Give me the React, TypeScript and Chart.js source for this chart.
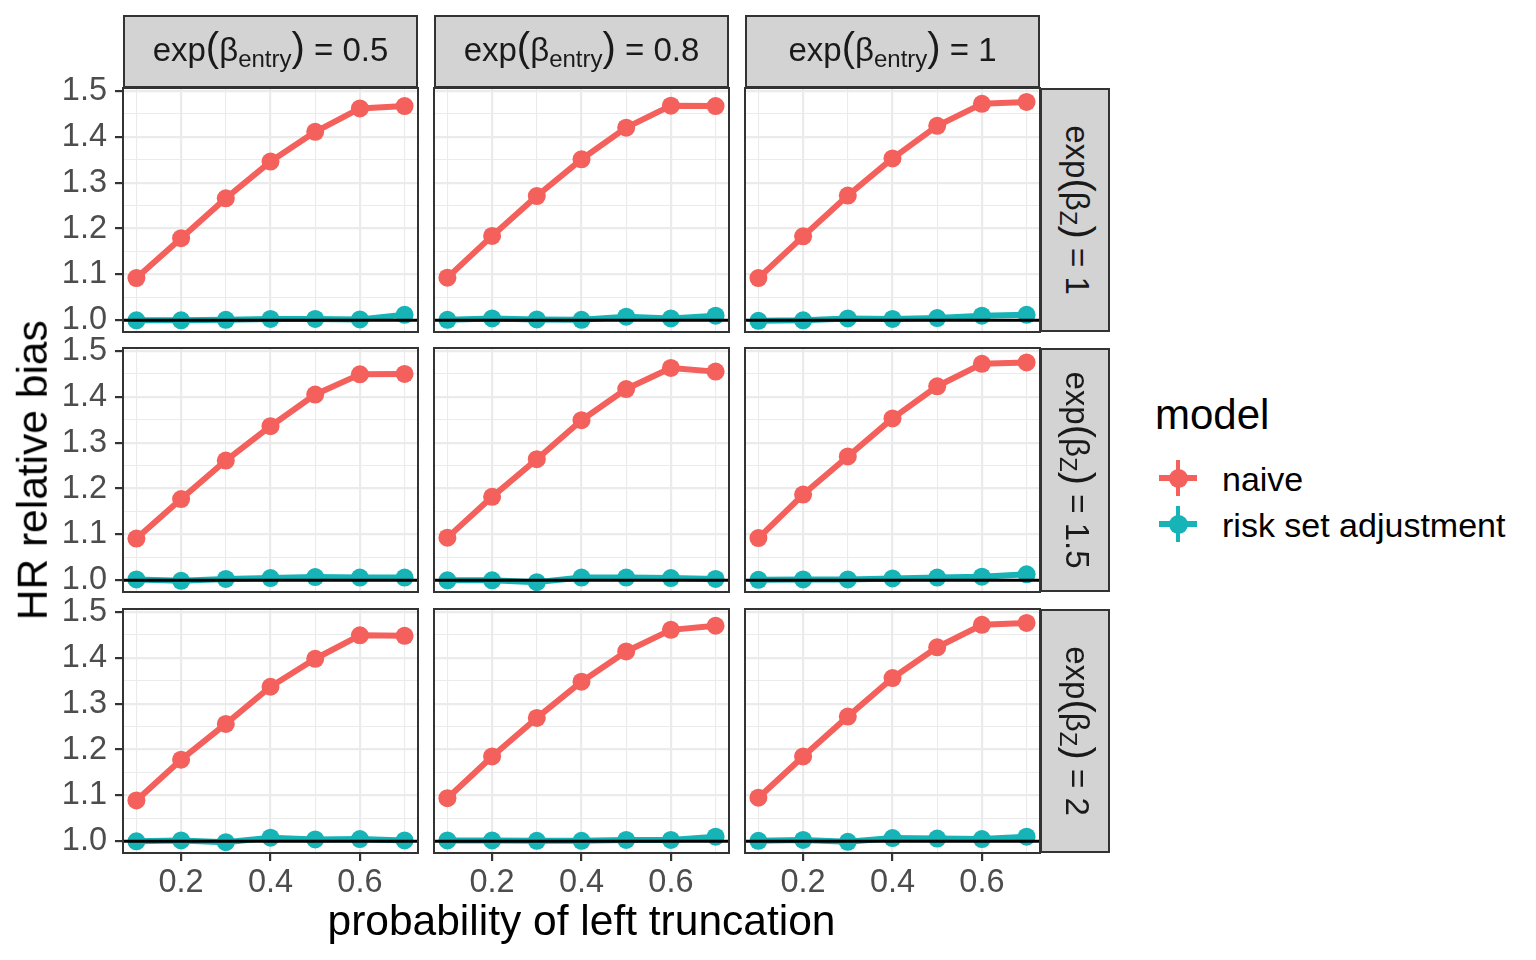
import { useEffect, useRef } from 'react'
import { Chart, registerables } from 'chart.js'

Chart.register(...registerables)

// x: probability of left truncation
const truncProb = [0.1, 0.2, 0.3, 0.4, 0.5, 0.6, 0.7]

// facet labels
const entryLabels = ['0.5', '0.8', '1']
const zLabels = ['1', '1.5', '2']

const modelNames = ['naive', 'risk set adjustment']

// axis breaks (major labelled, minor only gridlines)
const yMajor = [1.0, 1.1, 1.2, 1.3, 1.4, 1.5]
const yMinor = [1.05, 1.15, 1.25, 1.35, 1.45]
const xMajor = [0.2, 0.4, 0.6]
const xMinor = [0.1, 0.3, 0.5, 0.7]

const refLine = 1

// naive model, one array per panel (Z = exp(beta_z), E = exp(beta_entry))
const naiveZ1E05 = [1.092, 1.179, 1.266, 1.346, 1.411, 1.462, 1.467]
const naiveZ1E08 = [1.093, 1.184, 1.271, 1.351, 1.42, 1.468, 1.467]
const naiveZ1E1 = [1.092, 1.183, 1.272, 1.353, 1.424, 1.472, 1.476]
const naiveZ15E05 = [1.091, 1.177, 1.261, 1.336, 1.405, 1.449, 1.45]
const naiveZ15E08 = [1.093, 1.182, 1.264, 1.349, 1.417, 1.463, 1.455]
const naiveZ15E1 = [1.092, 1.187, 1.27, 1.353, 1.423, 1.472, 1.475]
const naiveZ2E05 = [1.089, 1.178, 1.256, 1.337, 1.398, 1.449, 1.448]
const naiveZ2E08 = [1.094, 1.185, 1.269, 1.348, 1.414, 1.461, 1.47]
const naiveZ2E1 = [1.095, 1.185, 1.272, 1.356, 1.423, 1.472, 1.476]

// risk set adjustment
const riskZ1E05 = [1.0, 1.0, 1.001, 1.003, 1.003, 1.002, 1.012]
const riskZ1E08 = [1.001, 1.004, 1.002, 1.001, 1.008, 1.004, 1.01]
const riskZ1E1 = [0.999, 1.0, 1.004, 1.003, 1.005, 1.01, 1.012]
const riskZ15E05 = [1.002, 0.999, 1.003, 1.005, 1.007, 1.006, 1.006]
const riskZ15E08 = [1.0, 1.0, 0.996, 1.006, 1.006, 1.005, 1.003]
const riskZ15E1 = [1.001, 1.002, 1.002, 1.004, 1.006, 1.008, 1.013]
const riskZ2E05 = [1.0, 1.002, 0.998, 1.008, 1.004, 1.005, 1.002]
const riskZ2E08 = [1.002, 1.002, 1.001, 1.001, 1.003, 1.003, 1.01]
const riskZ2E1 = [1.001, 1.003, 0.999, 1.007, 1.006, 1.005, 1.01]

const naive = [
  [naiveZ1E05, naiveZ1E08, naiveZ1E1],
  [naiveZ15E05, naiveZ15E08, naiveZ15E1],
  [naiveZ2E05, naiveZ2E08, naiveZ2E1],
]
const risk = [
  [riskZ1E05, riskZ1E08, riskZ1E1],
  [riskZ15E05, riskZ15E08, riskZ15E1],
  [riskZ2E05, riskZ2E08, riskZ2E1],
]

const FONT = "'Liberation Sans', Arial, Helvetica, sans-serif"
const RED = '#F4605B'
const TEAL = '#16B3B7'
const GRID = '#EBEBEB'
const DARK = '#333333'
const TICK_TEXT = '#4D4D4D'
const STRIP_FILL = '#D3D3D3'

// layout (px)
const PANEL_LEFT = [123, 434, 745]
const PANEL_TOP = [88, 348, 609]
const PANEL_W = 295
const PANEL_H = 244
const PAD = 30
const Y_AXIS_W = 70
const X_AXIS_H = 52
const STRIP_TOP = 15
const STRIP_W = 70
const TICK_SIZE = 32.5
const TITLE_SIZE = 42.5

const X_MIN = 0.07
const X_MAX = 0.73
const Y_MIN = 0.9745
const Y_MAX = 1.5065

Chart.defaults.font.family = FONT

const near = (list: number[], v: number) => list.some((m) => Math.abs(m - v) < 1e-9)
const xGrid = [...xMinor, ...xMajor].sort((a, b) => a - b)
const yGrid = [...yMinor, ...yMajor].sort((a, b) => a - b)

// text box top so that the baseline lands on `baseline`, line-height = font size
const topFor = (baseline: number, size: number) => baseline - 0.8465 * size

const panelFrame = {
  id: 'panelFrame',
  afterDatasetsDraw(chart: any) {
    const { ctx, chartArea: a, scales } = chart
    const py = scales.y.getPixelForValue(refLine)
    ctx.save()
    ctx.strokeStyle = '#000000'
    ctx.lineWidth = 3
    ctx.beginPath()
    ctx.moveTo(a.left, py)
    ctx.lineTo(a.right, py)
    ctx.stroke()
    ctx.strokeStyle = DARK
    ctx.lineWidth = 2
    ctx.strokeRect(a.left, a.top, a.right - a.left, a.bottom - a.top)
    ctx.restore()
  },
}

function Panel({ row, col }: { row: number; col: number }) {
  const canvasRef = useRef<HTMLCanvasElement>(null)
  const showY = col === 0
  const showX = row === 2
  const padL = PAD + (showY ? Y_AXIS_W : 0)
  const padB = PAD + (showX ? X_AXIS_H : 0)

  useEffect(() => {
    if (!canvasRef.current) return
    const ctx = canvasRef.current.getContext('2d')
    if (!ctx) return

    const series = [
      { name: modelNames[0], vals: naive[row][col], color: RED },
      { name: modelNames[1], vals: risk[row][col], color: TEAL },
    ]

    const chart = new Chart(ctx, {
      type: 'line',
      data: {
        datasets: series.map((s) => ({
          label: s.name,
          data: truncProb.map((x, i) => ({ x, y: s.vals[i] })),
          borderColor: s.color,
          backgroundColor: s.color,
          borderWidth: 6,
          borderJoinStyle: 'round' as const,
          pointRadius: 9,
          pointHoverRadius: 9,
          pointBorderWidth: 0,
          pointBackgroundColor: s.color,
          tension: 0,
        })),
      },
      options: {
        animation: false,
        responsive: true,
        maintainAspectRatio: false,
        events: [],
        layout: { padding: { left: PAD, right: PAD, top: PAD, bottom: PAD } },
        plugins: { legend: { display: false }, tooltip: { enabled: false } },
        scales: {
          x: {
            type: 'linear',
            min: X_MIN,
            max: X_MAX,
            afterBuildTicks: (axis: any) => {
              axis.ticks = xGrid.map((value) => ({ value }))
            },
            afterFit: (axis: any) => {
              axis.height = showX ? X_AXIS_H : 0
            },
            border: { display: false },
            grid: {
              color: GRID,
              lineWidth: (c: any) => (near(xMajor, c.tick.value) ? 2.2 : 1.1),
              drawTicks: showX,
              tickLength: 8,
              tickWidth: 2.2,
              tickColor: (c: any) => (near(xMajor, c.tick.value) ? DARK : 'rgba(0,0,0,0)'),
            },
            ticks: {
              display: showX,
              autoSkip: false,
              maxRotation: 0,
              padding: 3,
              color: TICK_TEXT,
              font: { size: TICK_SIZE, family: FONT },
              callback: (v: any) => (near(xMajor, Number(v)) ? Number(v).toFixed(1) : ''),
            },
          },
          y: {
            type: 'linear',
            min: Y_MIN,
            max: Y_MAX,
            afterBuildTicks: (axis: any) => {
              axis.ticks = yGrid.map((value) => ({ value }))
            },
            afterFit: (axis: any) => {
              axis.width = showY ? Y_AXIS_W : 0
            },
            border: { display: false },
            grid: {
              color: GRID,
              lineWidth: (c: any) => (near(yMajor, c.tick.value) ? 2.2 : 1.1),
              drawTicks: showY,
              tickLength: 8,
              tickWidth: 2.2,
              tickColor: (c: any) => (near(yMajor, c.tick.value) ? DARK : 'rgba(0,0,0,0)'),
            },
            ticks: {
              display: showY,
              autoSkip: false,
              padding: 8,
              color: TICK_TEXT,
              font: { size: TICK_SIZE, family: FONT },
              callback: (v: any) => (near(yMajor, Number(v)) ? Number(v).toFixed(1) : ''),
            },
          },
        },
      } as any,
      plugins: [panelFrame],
    })

    return () => {
      chart.destroy()
    }
  }, [row, col])

  return (
    <div
      style={{
        position: 'absolute',
        left: PANEL_LEFT[col] - padL,
        top: PANEL_TOP[row] - PAD,
        width: PANEL_W + padL + PAD,
        height: PANEL_H + PAD + padB,
      }}
    >
      <canvas ref={canvasRef} />
    </div>
  )
}

function StripLabel({ sub, value, top }: { sub: string; value: string; top: number }) {
  return (
    <div
      style={{
        position: 'absolute',
        left: 0,
        right: 0,
        top,
        textAlign: 'center',
        whiteSpace: 'nowrap',
        fontSize: 33,
        lineHeight: '33px',
        color: '#1A1A1A',
      }}
    >
      exp<span style={{ fontSize: 40 }}>(</span>β
      <span style={{ fontSize: 24, verticalAlign: -6 }}>{sub}</span>
      <span style={{ fontSize: 40 }}>)</span> = {value}
    </div>
  )
}

function TopStrip({ col }: { col: number }) {
  return (
    <div
      style={{
        position: 'absolute',
        left: PANEL_LEFT[col],
        top: STRIP_TOP,
        width: PANEL_W,
        height: PANEL_TOP[0] - STRIP_TOP,
        boxSizing: 'border-box',
        border: `2px solid ${DARK}`,
        background: STRIP_FILL,
      }}
    >
      <StripLabel sub="entry" value={entryLabels[col]} top={13.5} />
    </div>
  )
}

function SideStrip({ row }: { row: number }) {
  const innerW = PANEL_H - 4
  const innerH = STRIP_W - 4
  return (
    <div
      style={{
        position: 'absolute',
        left: PANEL_LEFT[2] + PANEL_W,
        top: PANEL_TOP[row],
        width: STRIP_W,
        height: PANEL_H,
        boxSizing: 'border-box',
        border: `2px solid ${DARK}`,
        background: STRIP_FILL,
      }}
    >
      <div
        style={{
          position: 'absolute',
          width: innerW,
          height: innerH,
          left: (innerH - innerW) / 2,
          top: (innerW - innerH) / 2,
          transform: 'rotate(90deg)',
        }}
      >
        <StripLabel sub="Z" value={zLabels[row]} top={12} />
      </div>
    </div>
  )
}

function LegendKey({ color, cy }: { color: string; cy: number }) {
  const cx = 1178
  return (
    <>
      <div style={{ position: 'absolute', left: cx - 19, top: cy - 3, width: 38, height: 6, background: color }} />
      <div style={{ position: 'absolute', left: cx - 1.75, top: cy - 18, width: 3.5, height: 36, background: color }} />
      <div
        style={{
          position: 'absolute',
          left: cx - 9.5,
          top: cy - 9.5,
          width: 19,
          height: 19,
          borderRadius: '50%',
          background: color,
        }}
      />
    </>
  )
}

export default function App() {
  const text = (size: number) => ({
    position: 'absolute' as const,
    fontSize: size,
    lineHeight: `${size}px`,
    whiteSpace: 'nowrap' as const,
    color: '#000000',
  })

  return (
    <div
      style={{
        position: 'absolute',
        left: 0,
        top: 0,
        width: 1536,
        height: 960,
        background: '#FFFFFF',
        overflow: 'hidden',
        fontFamily: FONT,
      }}
    >
      {[0, 1, 2].map((r) => [0, 1, 2].map((c) => <Panel key={`${r}-${c}`} row={r} col={c} />))}
      {[0, 1, 2].map((c) => (
        <TopStrip key={`t${c}`} col={c} />
      ))}
      {[0, 1, 2].map((r) => (
        <SideStrip key={`s${r}`} row={r} />
      ))}

      <div style={{ ...text(TITLE_SIZE), left: 281.5, width: 600, textAlign: 'center', top: topFor(936, TITLE_SIZE) }}>
        probability of left truncation
      </div>
      <div
        style={{
          ...text(TITLE_SIZE),
          left: 33 - 200,
          top: 470 - TITLE_SIZE / 2,
          width: 400,
          height: TITLE_SIZE,
          textAlign: 'center',
          transform: 'rotate(-90deg)',
        }}
      >
        HR relative bias
      </div>

      <div style={{ ...text(42), left: 1155, top: topFor(430, 42) }}>model</div>
      <LegendKey color={RED} cy={478} />
      <LegendKey color={TEAL} cy={524} />
      <div style={{ ...text(34), left: 1222, top: topFor(490.7, 34) }}>{modelNames[0]}</div>
      <div style={{ ...text(34), left: 1222, top: topFor(536.7, 34) }}>{modelNames[1]}</div>
    </div>
  )
}
